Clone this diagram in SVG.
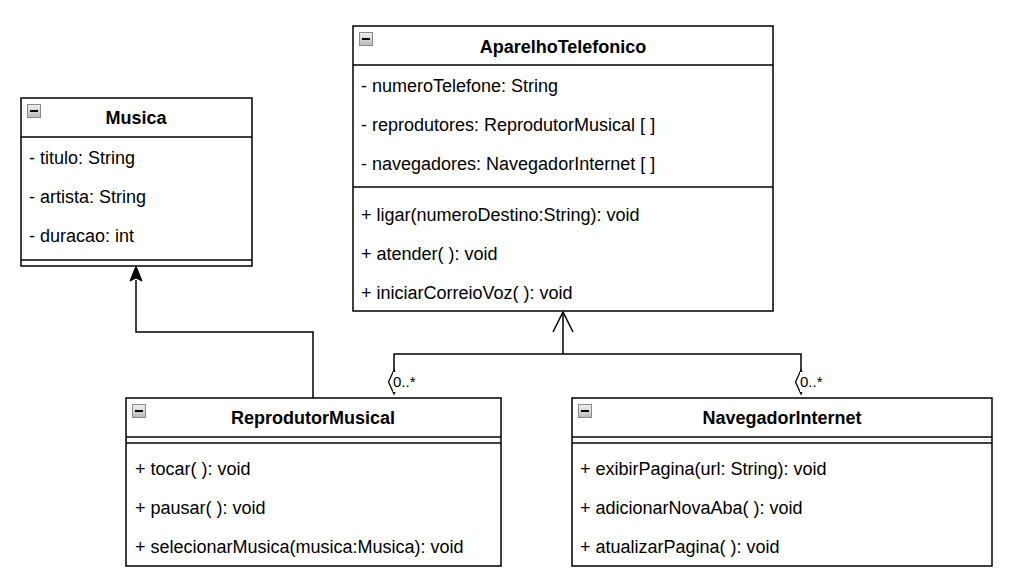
<svg xmlns="http://www.w3.org/2000/svg" width="1012" height="582" viewBox="0 0 1012 582">
<defs>
<linearGradient id="g" x1="0" y1="0" x2="0" y2="1"><stop offset="0" stop-color="#f2f2f2"/><stop offset="1" stop-color="#b8b8b8"/></linearGradient>
<g id="minus"><rect x="0.5" y="0.5" width="13" height="13" fill="url(#g)" stroke="#8a8a8a" stroke-width="1"/><line x1="3" y1="7" x2="11" y2="7" stroke="#000" stroke-width="2"/></g>
</defs>
<style>
.box{fill:#fff;stroke:#000;stroke-width:1.5}
.ln{stroke:#000;stroke-width:1.5;fill:none}
.t{font-family:"Liberation Sans",Arial,sans-serif;font-size:18px;fill:#000}
.h{font-family:"Liberation Sans",Arial,sans-serif;font-size:18px;font-weight:bold;fill:#000;text-anchor:middle}
.m{font-family:"Liberation Sans",Arial,sans-serif;font-size:15px;fill:#000}
</style>
<rect width="1012" height="582" fill="#fff"/>
<g id="connectors">
<polyline class="ln" points="313,398 313,332 136,332 136,280"/>
<path d="M136,266 L130,281 L136,278 L142,281 Z" fill="#000" stroke="#000" stroke-width="1"/>
<polyline class="ln" points="394,370 394,354 801,354 801,370"/>
<line class="ln" x1="563" y1="354" x2="563" y2="312"/>
<polyline class="ln" points="553,332 563,312 573,332"/>
<path d="M394,370 L388.5,382 L394,394 L399.5,382 Z" fill="#fff" stroke="#000" stroke-width="1.3"/>
<path d="M801,370 L795.5,382 L801,394 L806.5,382 Z" fill="#fff" stroke="#000" stroke-width="1.3"/>
<rect x="393" y="372" width="26" height="20" fill="#fff"/>
<rect x="800" y="372" width="26" height="20" fill="#fff"/>
<text class="m" x="393" y="387">0..*</text>
<text class="m" x="800" y="387">0..*</text>
</g>
<g id="Musica">
<rect class="box" x="21" y="98" width="231" height="168"/>
<line class="ln" x1="21" y1="137" x2="252" y2="137"/>
<line class="ln" x1="21" y1="260" x2="252" y2="260"/>
<use href="#minus" x="27" y="104"/>
<text class="h" x="136" y="124">Musica</text>
<text class="t" x="29" y="164">- titulo: String</text>
<text class="t" x="29" y="203">- artista: String</text>
<text class="t" x="29" y="242">- duracao: int</text>
</g>
<g id="AparelhoTelefonico">
<rect class="box" x="353" y="26" width="420" height="285"/>
<line class="ln" x1="353" y1="65" x2="773" y2="65"/>
<line class="ln" x1="353" y1="187" x2="773" y2="187"/>
<use href="#minus" x="359" y="32"/>
<text class="h" x="563" y="53">AparelhoTelefonico</text>
<text class="t" x="361" y="92">- numeroTelefone: String</text>
<text class="t" x="361" y="131">- reprodutores: ReprodutorMusical [ ]</text>
<text class="t" x="361" y="170">- navegadores: NavegadorInternet [ ]</text>
<text class="t" x="361" y="221">+ ligar(numeroDestino:String): void</text>
<text class="t" x="361" y="260">+ atender( ): void</text>
<text class="t" x="361" y="299">+ iniciarCorreioVoz( ): void</text>
</g>
<g id="ReprodutorMusical">
<rect class="box" x="126" y="398" width="375" height="168"/>
<line class="ln" x1="126" y1="437" x2="501" y2="437"/>
<line class="ln" x1="126" y1="443" x2="501" y2="443"/>
<use href="#minus" x="132" y="404"/>
<text class="h" x="313" y="424">ReprodutorMusical</text>
<text class="t" x="135" y="475">+ tocar( ): void</text>
<text class="t" x="135" y="514">+ pausar( ): void</text>
<text class="t" x="135" y="553">+ selecionarMusica(musica:Musica): void</text>
</g>
<g id="NavegadorInternet">
<rect class="box" x="572" y="398" width="420" height="168"/>
<line class="ln" x1="572" y1="437" x2="992" y2="437"/>
<line class="ln" x1="572" y1="443" x2="992" y2="443"/>
<use href="#minus" x="578" y="404"/>
<text class="h" x="782" y="424">NavegadorInternet</text>
<text class="t" x="580" y="475">+ exibirPagina(url: String): void</text>
<text class="t" x="580" y="514">+ adicionarNovaAba( ): void</text>
<text class="t" x="580" y="553">+ atualizarPagina( ): void</text>
</g>
</svg>
